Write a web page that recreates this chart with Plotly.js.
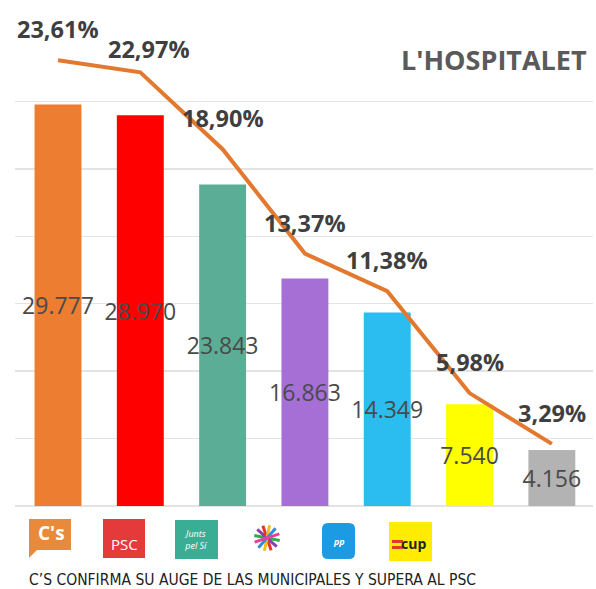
<!DOCTYPE html>
<html>
<head>
<meta charset="utf-8">
<script src="https://cdn.plot.ly/plotly-3.0.1.min.js"></script>
<style>
  html, body { margin: 0; padding: 0; background: #fff; }
  #chart { width: 596px; height: 589px; }
</style>
</head>
<body>
<div id="chart"></div>
<script>
// ---- data ----
const parties = ["C's", "PSC", "Junts pel Sí", "Catalunya Sí que es Pot", "PP", "CUP", "Otros"];
const votes = [29777, 28970, 23843, 16863, 14349, 7540, 4156];
const percents = [23.61, 22.97, 18.90, 13.37, 11.38, 5.98, 3.29];
const barColors = ["#ED7D31", "#FF0000", "#5BAE95", "#A56FD6", "#2BBDF0", "#FFFF00", "#B3B3B3"];
const chartTitle = "L'HOSPITALET";
const caption = "C’S CONFIRMA SU AUGE DE LAS MUNICIPALES Y SUPERA AL PSC";

// ---- geometry helpers (plot area in pixels) ----
const W = 596, H = 589;
const M = { l: 15, r: 3, t: 34, b: 83 };
const PW = W - M.l - M.r, PH = H - M.t - M.b;
const px = x => (x - M.l) / PW;
const py = y => (H - M.b - y) / PH;

const barTrace = {
  type: 'bar',
  x: parties,
  y: votes,
  marker: { color: barColors },
  width: 0.57,
  texttemplate: '%{y:,}',
  textposition: 'inside',
  textangle: 0,
  insidetextanchor: 'middle',
  constraintext: 'none',
  insidetextfont: { family: 'Open Sans, sans-serif', size: 23, color: '#4a4a4a' },
  hoverinfo: 'skip',
  cliponaxis: false
};

const lineTrace = {
  type: 'scatter',
  mode: 'lines',
  x: parties,
  y: percents,
  yaxis: 'y2',
  line: { color: '#E2792F', width: 4 },
  hoverinfo: 'skip'
};

const annotations = percents.map((p, i) => ({
  x: parties[i], y: p, xref: 'x', yref: 'y2',
  text: '<b>' + p.toFixed(2).replace('.', ',') + '%</b>',
  showarrow: false,
  yshift: i === 1 ? 23 : 31,
  xshift: i === 1 ? 9 : 0,
  font: { family: 'Open Sans, sans-serif', size: 23.5, color: '#3f3f3f' }
}));

annotations.push({
  xref: 'paper', yref: 'paper', x: px(589), y: py(60),
  xanchor: 'right', yanchor: 'middle', showarrow: false,
  text: '<b>' + chartTitle + '</b>',
  font: { family: 'Open Sans, sans-serif', size: 27, color: '#5a5a5a' }
});

annotations.push({
  xref: 'paper', yref: 'paper', x: px(27), y: py(580),
  xanchor: 'left', yanchor: 'middle', showarrow: false,
  text: caption,
  font: { family: 'Liberation Sans Narrow, DejaVu Sans Condensed, sans-serif', size: 15.5, color: '#222' }
});

// ---- logos (decorations, pixel positioned) ----
const shapes = [];
function box(x0, y0, x1, y1, color) {
  shapes.push({ type: 'rect', xref: 'paper', yref: 'paper',
    x0: px(x0), x1: px(x1), y0: py(y1), y1: py(y0),
    fillcolor: color, line: { width: 0 }, layer: 'above' });
}
function logoText(cx, cy, text, size, color, family) {
  annotations.push({ xref: 'paper', yref: 'paper', x: px(cx), y: py(cy),
    xanchor: 'center', yanchor: 'middle', showarrow: false, text: text,
    font: { family: family || 'Open Sans, sans-serif', size: size, color: color } });
}
// C's
box(29, 519, 71, 550, '#E98A3B');
shapes.push({ type: 'path', xref: 'paper', yref: 'paper',
  path: `M ${px(29)} ${py(549)} L ${px(29)} ${py(558)} L ${px(38)} ${py(549)} Z`,
  fillcolor: '#E98A3B', line: { width: 0 } });
logoText(51, 533, "<b>C's</b>", 19, '#ffffff');
// PSC
box(103, 519, 145, 558, '#E53A3A');
logoText(124, 544, "PSC", 15, '#ffffff');
// Junts pel Sí
box(175, 520, 218, 559, '#3AAE94');
logoText(196, 539, "<i>Junts<br>pel Sí</i>", 9, '#ffffff');
// Catalunya Sí que es Pot (asterisk)
const starColors = ['#2EAE4A', '#8E3FA8', '#E8322E', '#F3C018', '#2E8FD6', '#E5409A'];
starColors.forEach((c, k) => {
  const a = Math.PI * k / 6 + 0.2;
  const cx = 267, cy = 538, r = 13;
  shapes.push({ type: 'line', xref: 'paper', yref: 'paper',
    x0: px(cx - r * Math.cos(a)), y0: py(cy - r * Math.sin(a)),
    x1: px(cx + r * Math.cos(a)), y1: py(cy + r * Math.sin(a)),
    line: { color: c, width: 3 } });
});
// PP
shapes.push({ type: 'path', xref: 'paper', yref: 'paper',
  path: `M ${px(328)} ${py(523)} L ${px(349)} ${py(523)} Q ${px(355)} ${py(523)} ${px(355)} ${py(529)} L ${px(355)} ${py(553)} Q ${px(355)} ${py(559)} ${px(349)} ${py(559)} L ${px(328)} ${py(559)} Q ${px(322)} ${py(559)} ${px(322)} ${py(553)} L ${px(322)} ${py(529)} Q ${px(322)} ${py(523)} ${px(328)} ${py(523)} Z`,
  fillcolor: '#1D9BE2', line: { width: 0 } });
logoText(339, 541, "<b><i>pp</i></b>", 9, '#ffffff');
// CUP
box(389, 522, 432, 561, '#FFEC00');
box(392, 540, 403, 543, '#E03A2A');
box(392, 546, 403, 549, '#E03A2A');
logoText(413, 543, "<b>cup</b>", 14, '#222222');

const layout = {
  width: W, height: H,
  margin: M,
  paper_bgcolor: '#ffffff',
  plot_bgcolor: '#ffffff',
  separators: ',.',
  showlegend: false,
  bargap: 0.43,
  xaxis: {
    type: 'category',
    showticklabels: false,
    showgrid: false,
    zeroline: false,
    showline: false,
    ticks: ''
  },
  yaxis: {
    range: [0, 35000],
    dtick: 5000,
    showticklabels: false,
    showgrid: true,
    gridcolor: '#e3e3e3',
    gridwidth: 1.5,
    zeroline: true,
    zerolinecolor: '#e3e3e3',
    zerolinewidth: 2,
    ticks: ''
  },
  yaxis2: {
    range: [0, 25],
    overlaying: 'y',
    side: 'right',
    showgrid: false,
    showticklabels: false,
    zeroline: false,
    ticks: ''
  },
  annotations: annotations,
  shapes: shapes
};

Plotly.newPlot('chart', [barTrace, lineTrace], layout, { displayModeBar: false, staticPlot: true });
</script>
</body>
</html>
